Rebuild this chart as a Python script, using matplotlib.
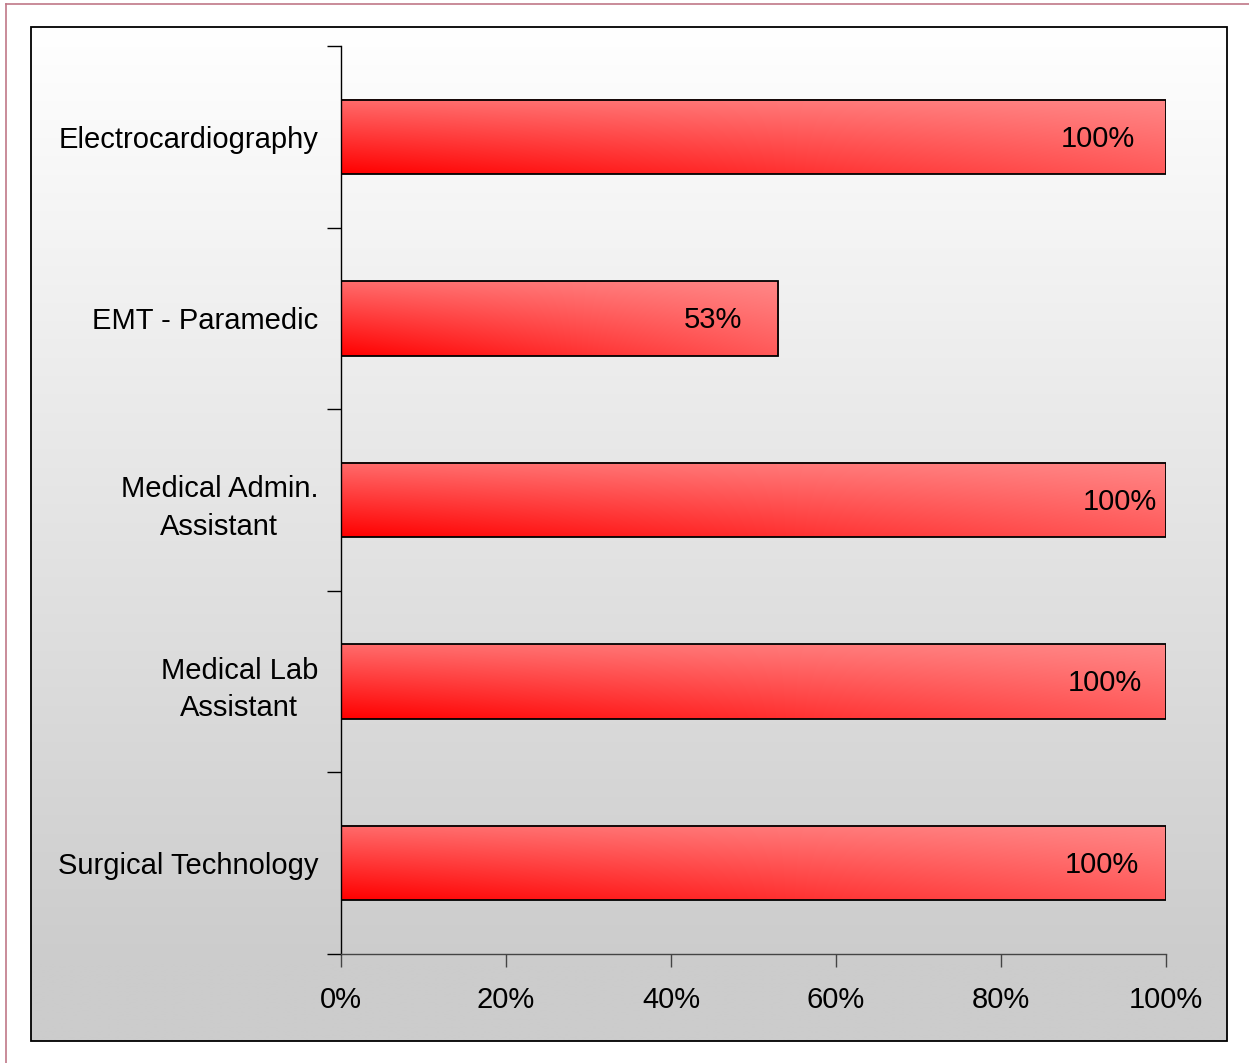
import numpy as np
import matplotlib
matplotlib.use("Agg")
import matplotlib.pyplot as plt
from matplotlib.patches import Rectangle
from matplotlib.lines import Line2D

plt.rcParams['font.family'] = ['Liberation Sans', 'DejaVu Sans']

# data, top to bottom
categories = ["Electrocardiography", "EMT - Paramedic", "Medical Admin.\nAssistant",
              "Medical Lab\nAssistant", "Surgical Technology"]
values = [1.00, 0.53, 1.00, 1.00, 1.00]
value_labels = ["100%", "53%", "100%", "100%", "100%"]
# where the label sits, back from the bar end (as in the original)
label_back = [0.082, 0.079, 0.056, 0.074, 0.078]
x_ticks = [0, 0.2, 0.4, 0.6, 0.8, 1.0]
x_ticklabels = ["0%", "20%", "40%", "60%", "80%", "100%"]

W, H = 1249, 1063
fig = plt.figure(figsize=(W / 100, H / 100), dpi=100)
fig.patch.set_facecolor("white")

# background panel with vertical white->grey gradient
bg = fig.add_axes([0, 0, 1, 1], zorder=0)
y = np.linspace(27, 1041, 400)
t = np.clip((y - 27) / (963 - 27), 0, 1)
g = 1.0 - 0.2 * t
g2 = np.repeat(g[:, None], 2, axis=1)
grad = np.dstack([g2, g2, g2])
bg.imshow(grad, extent=(31, 1227, 1041, 27), aspect="auto", interpolation="bilinear")
bg.add_patch(Rectangle((31, 27), 1196, 1014, fill=False, edgecolor="black", lw=1.3))
bg.add_line(Line2D([6, 6], [4, H], color="#c07888", lw=1.2))
bg.add_line(Line2D([6, W], [4, 4], color="#c07888", lw=1.2))
bg.set_xlim(0, W)
bg.set_ylim(H, 0)
bg.axis("off")

ax = fig.add_axes([341 / W, 1 - 954 / H, (1166 - 341) / W, (954 - 46) / H], zorder=1)
ax.patch.set_alpha(0)
n = len(categories)
ypos = np.arange(n)[::-1]

bar_h = 0.41
uu, vv = np.meshgrid(np.linspace(0, 1, 200), np.linspace(1, 0, 60))
light = 0.42 * vv + 0.35 * uu - 0.24 * uu * vv
img = np.dstack([np.ones_like(light), light, light])
for yp, v, lab, back in zip(ypos, values, value_labels, label_back):
    ax.imshow(img, extent=(0, v, yp - bar_h / 2, yp + bar_h / 2), aspect="auto",
              interpolation="bilinear", zorder=2)
    ax.add_patch(Rectangle((0, yp - bar_h / 2), v, bar_h, fill=False,
                           edgecolor="black", lw=1.3, zorder=3))
    ax.text(v - back, yp - 0.01, lab, ha="center", va="center", fontsize=21, zorder=4)
ax.set_xlim(0, 1)
ax.set_ylim(-0.5, n - 0.5)
ax.set_aspect("auto")

ax.set_yticks(ypos)
ax.set_yticklabels(categories, fontsize=21, multialignment="center", linespacing=1.45)
ax.set_yticks(np.arange(-0.5, n), minor=True)
ax.tick_params(axis="y", which="major", length=0, pad=16.5)
ax.tick_params(axis="y", which="minor", length=10, width=1, color="black")
ax.set_xticks(x_ticks)
ax.set_xticklabels(x_ticklabels, fontsize=21)
ax.tick_params(axis="x", length=9, width=1, color="#444444", pad=14)
for s in ["top", "right"]:
    ax.spines[s].set_visible(False)
ax.spines["left"].set_color("black")
ax.spines["bottom"].set_color("#444444")
ax.spines["left"].set_linewidth(1)
ax.spines["bottom"].set_linewidth(1)

fig.savefig("out.png", dpi=100)
